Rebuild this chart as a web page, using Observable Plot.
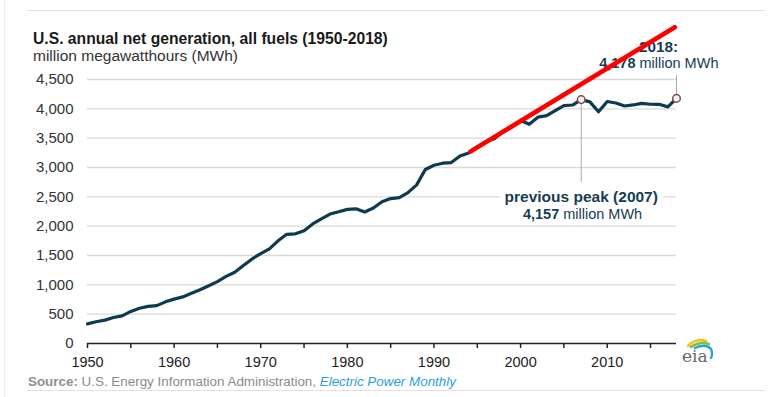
<!DOCTYPE html>
<html>
<head>
<meta charset="utf-8">
<script src="https://cdn.jsdelivr.net/npm/d3@7"></script>
<script src="https://cdn.jsdelivr.net/npm/@observablehq/plot@0.6"></script>
<style>
  body { margin: 0; background: #fff; font-family: "Liberation Sans", Arial, sans-serif; }
  #wrap { position: relative; width: 780px; height: 397px; overflow: hidden; background: #fff; }
  #chart { position: absolute; left: 0; top: 0; }
  .hline { position: absolute; left: 27px; width: 738px; height: 0; border-top: 1.5px solid #e2e2e2; }
  .vline { position: absolute; left: 4px; top: 0; width: 0; height: 397px; border-left: 1.5px solid #ececec; }
  #title { position: absolute; left: 33px; top: 31px; font-size: 15.7px; line-height: 16px; font-weight: bold; color: #1a1a1a; white-space: nowrap; }
  #subtitle { position: absolute; left: 33px; top: 48px; font-size: 15.5px; line-height: 16px; color: #333; white-space: nowrap; }
  #source { position: absolute; left: 28px; top: 375px; font-size: 13.4px; line-height: 14px; color: #8a8a8a; white-space: nowrap; }
  #source b { color: #8f8f8f; }
  #source i { color: #2a9fd8; }
  #logo { position: absolute; left: 678px; top: 335px; }
</style>
</head>
<body>
<div id="wrap">
  <div id="chart"></div>
  <div class="vline"></div>
  <div class="hline" style="top:10px"></div>
  <div class="hline" style="top:390px"></div>
  <div id="title">U.S. annual net generation, all fuels (1950-2018)</div>
  <div id="subtitle">million megawatthours (MWh)</div>
  <div id="source"><b>Source:</b> U.S. Energy Information Administration, <i>Electric Power Monthly</i></div>
  <svg id="logo" width="44" height="32" viewBox="0 0 44 32">
    <path d="M10 11 Q18 3 28 6" fill="none" stroke="#f2c12e" stroke-width="2.6" stroke-linecap="round"/>
    <path d="M13 12 Q22 6 31 9" fill="none" stroke="#7cbf3f" stroke-width="2.4" stroke-linecap="round"/>
    <path d="M17 13 Q28 8 33 14 Q35 19 33 23" fill="none" stroke="#2a9fd8" stroke-width="2.4" stroke-linecap="round"/>
    <text x="4" y="27" font-family="DejaVu Serif, Liberation Serif, serif" font-size="17" fill="#666">eia</text>
  </svg>
</div>
<script>
// ---- data ----
const years = [1950,1951,1952,1953,1954,1955,1956,1957,1958,1959,
               1960,1961,1962,1963,1964,1965,1966,1967,1968,1969,
               1970,1971,1972,1973,1974,1975,1976,1977,1978,1979,
               1980,1981,1982,1983,1984,1985,1986,1987,1988,1989,
               1990,1991,1992,1993,1994,1995,1996,1997,1998,1999,
               2000,2001,2002,2003,2004,2005,2006,2007,2008,2009,
               2010,2011,2012,2013,2014,2015,2016,2017,2018];
const generation = [334,371,399,443,472,547,601,632,645,710,
                    756,794,855,917,984,1055,1144,1214,1329,1442,
                    1532,1613,1750,1861,1870,1921,2038,2124,2206,2247,
                    2286,2295,2241,2310,2416,2470,2487,2572,2704,2967,
                    3038,3073,3084,3197,3247,3353,3444,3492,3620,3695,
                    3802,3737,3858,3883,3971,4055,4065,4157,4119,3950,
                    4125,4100,4048,4066,4094,4078,4077,4034,4178];
const trendYears = [1994.2, 2017.8];
const trendValues = [3270, 5390];
const yTicks = [0,500,1000,1500,2000,2500,3000,3500,4000,4500];
const xTicks = [1950,1955,1960,1965,1970,1975,1980,1985,1990,1995,2000,2005,2010,2015];
const peakYear = 2007, peakValue = 4157;
const lastYear = 2018, lastValue = 4178;

const series = years.map((y, i) => ({year: y, value: generation[i]}));
const trend = trendYears.map((y, i) => ({year: y, value: trendValues[i]}));
const marked = [{year: peakYear, value: peakValue}, {year: lastYear, value: lastValue}];

const navy = "#0e3a50";
const annot = "#173d53";

const chart = Plot.plot({
  width: 780,
  height: 397,
  marginLeft: 87,
  marginRight: 104,
  marginTop: 79,
  marginBottom: 54,
  style: {background: "transparent", fontFamily: "Liberation Sans, Arial, sans-serif", overflow: "visible"},
  x: {domain: [1950, 2018]},
  y: {domain: [0, 4500]},
  marks: [
    Plot.gridY({ticks: yTicks.filter(d => d > 0), stroke: "#d9d9d9", strokeOpacity: 1, strokeWidth: 1.3}),
    Plot.axisY({ticks: yTicks, tickSize: 0, tickPadding: 14, tickFormat: d3.format(","), fontSize: 15, color: "#333", label: null}),
    Plot.axisX({ticks: xTicks, tickSize: 5, tickPadding: 8, tickFormat: d => d % 10 === 0 ? String(d) : "", fontSize: 14.5, color: "#222", strokeWidth: 1.5, label: null}),
    Plot.ruleY([0], {stroke: "#222", strokeWidth: 1.6}),
    Plot.line(series, {x: "year", y: "value", stroke: navy, strokeWidth: 3.2, strokeLinejoin: "round", strokeLinecap: "round"}),
    Plot.ruleX([peakYear], {y1: peakValue, y2: 2745, stroke: "#aaa", strokeWidth: 1}),
    Plot.ruleX([lastYear], {y1: lastValue, y2: 4570, stroke: "#aaa", strokeWidth: 1}),
    Plot.dot(marked, {x: "year", y: "value", r: 3.8, fill: "#f7f0f0", stroke: "#7d4b4b", strokeWidth: 1.5}),
    Plot.text([{year: peakYear, value: 2495}], {x: "year", y: "value", text: () => "previous peak (2007)", fontSize: 15.5, fontWeight: "bold", fill: annot, stroke: "white", strokeWidth: 12, textAnchor: "middle"}),
    Plot.text([{year: peakYear, value: 2200}], {x: "year", y: "value", text: () => "4,157", fontSize: 14.5, fontWeight: "bold", fill: annot, textAnchor: "end", dx: -22}),
    Plot.text([{year: peakYear, value: 2200}], {x: "year", y: "value", text: () => "million MWh", fontSize: 14.5, fill: annot, textAnchor: "start", dx: -18}),
    Plot.text([{year: lastYear, value: 5050}], {x: "year", y: "value", text: () => "2018:", fontSize: 15.3, fontWeight: "bold", fill: annot, textAnchor: "middle", dx: -18}),
    Plot.text([{year: lastYear, value: 4770}], {x: "year", y: "value", text: () => "4,178", fontSize: 14.5, fontWeight: "bold", fill: annot, textAnchor: "end", dx: -41}),
    Plot.text([{year: lastYear, value: 4770}], {x: "year", y: "value", text: () => "million MWh", fontSize: 14.5, fill: annot, textAnchor: "start", dx: -37}),
    Plot.line(trend, {x: "year", y: "value", stroke: "#ff0000", strokeWidth: 4.6})
  ]
});
document.getElementById("chart").appendChild(chart);
</script>
</body>
</html>
